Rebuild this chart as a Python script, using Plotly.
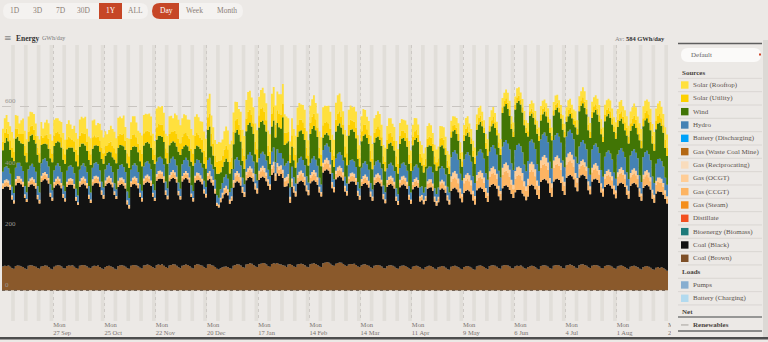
import pandas as pd
import plotly.graph_objects as go

# ---------------- DATA (GWh/day, one row per week Mon..Sun) ----------------
start_date = "2021-08-30"
n_days = 365

coal_brown_weeks = [
 [78,80,79,81,77,72,70],[79,81,80,78,76,71,69],[80,82,81,79,77,73,70],[78,79,81,80,76,70,68],
 [77,80,82,81,78,72,71],[79,81,80,82,77,73,70],[80,82,83,81,78,74,72],[78,80,79,81,76,71,69],
 [76,79,80,78,75,70,68],[79,81,82,80,77,72,70],[80,83,82,81,78,74,71],[81,82,84,83,79,75,72],
 [82,84,83,85,80,76,73],[81,83,85,84,80,75,72],[80,82,84,83,79,74,71],[83,85,84,82,80,75,73],
 [84,86,82,80,76,70,68],[72,75,77,78,76,72,70],[80,83,85,84,81,76,74],[84,86,88,87,83,78,76],
 [85,87,89,88,84,79,77],[86,88,87,89,85,84,82],[80,76,84,86,83,78,76],[84,86,87,85,82,77,75],
 [85,87,88,86,83,78,76],[88,90,92,91,87,82,80],[87,89,91,90,86,81,79],[84,86,85,87,83,78,76],
 [82,84,85,83,80,75,73],[80,82,83,81,78,73,71],[79,81,82,80,77,72,70],[78,80,81,79,76,71,69],
 [77,79,80,78,75,70,68],[76,78,80,79,75,70,68],[75,77,79,78,74,69,67],[77,79,80,78,75,70,68],
 [76,78,79,77,74,69,67],[78,80,81,79,76,71,69],[79,81,82,80,77,72,70],[80,82,83,81,78,73,71],
 [78,80,79,81,77,72,70],[76,78,80,79,75,70,68],[79,81,82,80,77,72,70],[80,82,83,81,78,73,71],
 [81,83,84,82,79,74,72],[82,84,85,83,80,75,73],[80,82,83,81,78,73,71],[79,81,82,80,77,72,70],
 [78,80,81,79,76,71,69],[77,79,80,78,75,70,68],[76,78,79,77,74,69,67],[74,76,72,75,73,68,64],
 [76],
]
coal_black_weeks = [
 [253,258,260,257,250,224,213],[264,269,271,268,261,230,219],[258,263,265,262,255,224,213],
 [275,280,282,279,272,235,224],[258,263,265,262,255,230,219],[258,263,265,262,255,219,208],
 [258,263,265,262,255,224,213],[264,269,271,268,261,241,230],[264,269,271,268,261,241,230],
 [258,263,265,262,255,208,197],[258,263,265,262,255,230,219],[264,269,271,268,261,230,219],
 [275,280,282,279,272,235,224],[275,280,282,279,272,235,224],[275,280,282,279,272,230,219],
 [269,274,276,273,266,241,230],[275,278,270,262,240,205,202],[215,225,236,240,234,210,222],
 [255,269,271,268,261,241,230],[275,280,282,279,272,251,240],[275,280,282,279,272,262,251],
 [291,296,270,293,288,295,284],[258,263,265,200,255,241,230],[264,269,271,268,261,246,235],
 [264,269,271,268,261,241,230],[296,301,303,300,293,251,240],[275,280,282,279,272,241,230],
 [264,269,271,268,261,230,219],[258,263,265,262,255,230,219],[264,269,271,268,261,224,213],
 [258,263,265,262,255,219,208],[258,263,265,262,255,224,213],[253,258,260,257,215,224,213],
 [215,253,255,257,250,219,208],[212,252,254,251,244,224,213],[248,253,255,252,245,230,219],
 [242,247,249,246,239,224,213],[248,253,255,252,245,230,219],[258,263,265,262,255,235,224],
 [253,258,260,257,250,241,230],[242,247,249,246,239,235,224],[230,263,265,262,255,241,230],
 [275,280,282,279,272,246,235],[275,280,282,279,272,251,240],[286,291,293,290,283,262,251],
 [286,291,293,290,283,251,240],[275,280,282,279,272,246,235],[258,263,265,262,255,241,230],
 [264,269,271,268,261,241,230],[264,269,271,268,261,235,224],[258,263,265,262,255,230,219],
 [242,247,249,246,239,230,219],
 [234],
]
gas_ccgt_weeks = [
 [12,14,15,13,11,9,7],[13,15,14,12,11,8,7],[12,13,15,14,12,9,8],[14,16,15,13,12,9,7],
 [12,14,16,14,11,8,7],[11,13,14,13,10,8,6],[12,14,15,14,11,9,7],[13,15,16,14,12,9,8],
 [12,14,15,13,11,8,7],[13,15,14,13,12,9,7],[12,14,16,15,11,9,8],[13,15,15,14,12,9,7],
 [14,16,17,15,13,10,8],[13,15,16,14,12,9,8],[12,14,15,14,11,8,7],[14,16,15,13,12,9,8],
 [15,16,13,12,10,7,7],[10,12,14,15,13,9,10],[16,20,21,19,17,13,11],[18,20,22,20,17,13,11],
 [19,21,22,20,18,14,12],[20,22,16,21,20,18,17],[18,20,19,12,17,13,11],[18,20,21,19,17,13,11],
 [17,19,21,19,16,12,10],[20,22,23,21,19,13,11],[18,20,21,19,17,12,10],[15,17,18,16,14,11,9],
 [15,17,18,16,14,11,9],[16,17,18,17,14,11,9],[15,17,17,16,14,10,9],[16,18,18,17,15,11,9],
 [15,17,18,16,11,11,9],[11,16,17,17,15,11,10],[12,17,18,17,15,11,10],[30,33,34,32,29,21,19],
 [31,33,35,33,30,21,19],[32,34,35,33,30,22,20],[33,35,36,34,31,22,20],[43,46,47,45,42,31,29],
 [44,47,48,46,43,32,30],[38,46,47,45,42,31,29],[45,48,49,47,44,32,30],[44,47,48,46,43,31,29],
 [43,46,47,45,42,31,29],[29,31,32,30,28,19,17],[30,32,33,31,28,19,17],[28,30,31,29,27,19,17],
 [29,31,32,30,28,19,17],[28,30,31,29,27,18,16],[29,31,32,30,27,19,17],[28,30,31,29,26,18,16],
 [27],
]
gas_ocgt_weeks = [
 [6,7,8,7,6,5,4],[7,8,7,6,6,4,3],[6,7,8,7,6,5,4],[7,8,8,7,6,4,4],
 [6,7,8,7,6,4,3],[6,7,7,6,5,4,3],[6,7,8,7,6,5,4],[7,8,8,7,6,5,4],
 [6,7,8,7,5,4,3],[7,8,7,7,6,5,4],[6,7,8,8,6,5,4],[7,8,8,7,6,4,4],
 [8,9,9,8,7,5,4],[7,8,9,8,6,5,4],[6,7,8,7,6,4,4],[8,9,8,7,6,5,4],
 [9,9,7,6,5,4,3],[5,6,7,8,7,5,5],[9,11,12,11,10,7,6],[10,12,13,11,10,7,6],
 [11,12,13,12,10,7,6],[12,13,9,12,12,11,10],[10,11,11,7,10,7,6],[10,12,12,11,10,7,6],
 [10,11,12,11,9,7,5],[12,13,14,12,11,7,6],[10,12,12,11,10,7,5],[8,10,10,9,8,6,5],
 [8,9,10,9,8,6,5],[9,10,10,9,8,6,4],[8,9,10,9,8,5,4],[9,10,10,9,8,6,5],
 [8,9,10,9,6,6,5],[6,9,10,9,8,6,5],[6,9,10,9,8,6,5],[17,19,20,18,16,11,9],
 [17,19,20,19,16,11,9],[18,19,20,19,17,11,10],[18,20,21,19,17,12,10],[24,26,27,25,23,16,14],
 [25,27,28,26,24,17,15],[20,26,27,25,23,16,14],[25,27,28,26,24,16,14],[24,26,27,25,23,16,14],
 [24,26,27,25,23,16,14],[14,16,17,15,13,11,9],[15,16,17,15,14,11,9],[14,15,16,15,13,10,9],
 [14,16,17,15,13,11,9],[14,15,16,15,13,10,8],[14,16,16,15,13,10,9],[13,15,16,14,12,10,8],
 [13],
]
hydro_weeks = [
 [38,42,43,40,36,28,23],[37,43,44,41,35,27,22],[39,41,44,40,37,29,24],[40,44,45,42,38,28,23],
 [38,42,43,41,36,27,23],[36,40,42,39,35,27,22],[37,41,43,40,35,28,23],[38,42,44,41,36,28,24],
 [36,40,41,39,34,26,22],[38,42,43,40,36,28,23],[37,41,43,41,36,27,23],[39,43,44,41,37,28,24],
 [40,44,45,42,38,29,24],[39,43,44,42,37,28,23],[38,42,43,41,36,27,23],[40,43,42,40,36,27,22],
 [42,43,38,35,30,24,22],[28,32,35,37,34,25,27],[36,44,45,42,38,30,25],[40,44,46,43,38,30,25],
 [41,45,46,44,39,31,26],[43,47,36,45,43,40,36],[40,44,43,30,38,30,25],[40,44,45,42,38,29,25],
 [39,43,45,42,37,29,24],[42,46,47,44,40,30,25],[40,44,45,42,38,29,24],[38,42,43,40,36,28,23],
 [37,41,43,40,36,28,23],[38,42,43,41,36,28,23],[37,41,42,40,35,27,22],[38,42,43,41,36,28,23],
 [37,41,42,40,28,28,23],[28,41,42,41,36,27,23],[30,42,44,42,37,28,24],[62,67,68,65,61,48,43],
 [61,66,68,65,60,47,42],[63,67,69,66,61,48,43],[64,68,70,67,62,49,44],[68,72,73,70,66,53,48],
 [69,73,74,71,67,54,49],[58,72,73,70,66,53,48],[68,72,74,71,66,53,48],[67,71,73,70,65,52,47],
 [68,72,73,70,66,53,48],[58,62,63,60,56,43,38],[59,63,64,61,56,43,38],[57,61,62,60,55,42,38],
 [58,62,63,60,56,43,38],[57,61,62,59,55,42,37],[58,62,63,60,55,43,38],[56,60,61,58,54,41,37],
 [55],
]
wind_weeks = [
 [70,80,92,88,78,95,105],[95,85,72,75,88,100,98],[90,98,95,88,92,102,98],[60,50,48,55,58,85,92],
 [80,75,72,78,80,85,90],[70,62,58,64,70,90,96],[75,72,65,68,70,85,90],[62,58,55,60,62,74,78],
 [45,40,38,45,48,78,84],[70,65,62,68,72,92,98],[65,60,56,60,64,76,80],[68,64,62,66,70,80,86],
 [72,70,68,72,74,76,80],[58,52,50,55,62,100,110],[50,45,42,46,50,76,82],[48,45,44,46,50,56,60],
 [98,102,60,45,42,70,78],[55,52,50,52,55,60,62],[80,88,90,84,78,55,50],[92,98,96,94,90,65,60],
 [100,104,102,98,95,45,40],[82,88,80,86,84,80,135],[68,66,64,80,66,55,52],[84,88,86,85,82,58,55],
 [95,98,100,96,94,64,60],[40,36,35,38,40,42,40],[88,92,94,90,86,64,60],[96,100,98,97,94,76,72],
 [86,90,88,87,85,70,66],[75,78,77,75,74,70,68],[65,68,66,64,67,70,68],[78,82,80,79,78,73,70],
 [83,86,87,84,82,68,66],[68,70,69,68,70,78,76],[70,72,68,66,64,62,60],[64,68,66,65,62,48,45],
 [60,62,63,60,58,64,62],[85,88,90,86,84,80,78],[66,68,70,67,64,75,73],[110,116,118,114,110,112,108],
 [132,138,140,136,130,128,125],[80,84,85,82,80,100,98],[62,66,68,65,64,95,92],[80,82,83,80,79,101,98],
 [48,50,52,49,48,96,94],[115,118,120,117,114,123,120],[104,108,110,106,102,117,114],[115,118,120,116,114,133,130],
 [90,94,96,92,88,120,116],[80,82,84,80,78,114,110],[100,105,106,103,98,108,105],[112,116,118,114,110,97,94],
 [93],
]
solar_utility_weeks = [
 [28,32,30,25,31,33,29],[31,27,22,30,33,32,30],[33,31,29,34,26,24,30],[30,20,27,32,33,31,28],
 [34,32,30,28,33,35,31],[33,36,30,24,34,37,36],[36,35,33,38,29,31,35],[37,34,26,30,36,38,34],
 [32,24,28,35,37,36,33],[39,37,35,40,30,33,38],[36,40,39,32,28,37,40],[40,38,36,39,41,34,30],
 [41,39,37,40,38,32,36],[38,35,30,38,41,42,39],[40,42,39,35,41,43,40],[42,41,38,36,40,42,39],
 [41,43,40,37,35,39,42],[39,36,40,42,41,38,37],[42,40,36,33,39,41,43],[41,43,42,38,35,40,42],
 [40,42,43,41,37,33,39],[43,44,42,41,43,45,44],[40,35,30,28,37,41,42],[39,37,34,38,40,36,33],
 [37,39,40,36,31,35,38],[40,38,35,39,37,33,36],[38,40,39,34,30,36,39],[34,32,29,33,35,31,28],
 [33,35,32,28,30,34,33],[32,30,33,34,28,25,31],[30,33,32,29,31,34,32],[28,26,24,27,29,30,27],
 [27,29,26,23,28,27,25],[25,28,29,27,24,26,28],[26,27,25,28,24,22,26],[21,19,17,20,22,21,18],
 [20,22,21,17,19,20,21],[19,21,20,18,16,19,21],[18,20,21,19,17,18,20],[19,17,18,20,19,16,18],
 [16,18,17,15,17,18,16],[17,15,16,18,17,16,17],[18,17,15,16,18,17,16],[17,18,16,15,17,18,17],
 [18,20,19,17,19,20,18],[19,18,20,21,18,17,19],[20,19,18,20,21,19,18],[21,20,19,22,20,18,21],
 [23,25,24,22,26,25,23],[25,24,26,27,23,22,25],[26,25,24,27,28,25,24],[27,26,28,25,24,27,28],
 [28],
]
solar_rooftop_weeks = [
 [42,48,45,38,46,50,44],[46,41,34,45,50,48,45],[49,47,44,51,39,37,45],[45,31,41,48,50,47,42],
 [51,48,45,42,50,52,47],[49,53,45,36,51,55,53],[53,52,49,56,43,46,52],[55,51,39,45,54,56,51],
 [48,36,42,52,55,54,49],[59,56,53,60,45,50,57],[54,60,59,48,42,56,60],[60,57,54,59,61,51,45],
 [61,58,56,60,57,48,54],[57,53,45,57,61,62,58],[60,62,58,52,61,64,60],[62,61,57,54,60,63,58],
 [61,64,60,55,52,58,62],[58,54,60,62,61,57,55],[62,60,54,50,58,61,64],[61,64,62,57,52,60,62],
 [60,62,64,61,55,50,58],[64,65,63,61,64,66,65],[60,52,45,42,55,61,62],[57,55,50,56,59,53,49],
 [55,57,59,53,46,52,56],[59,56,52,57,55,49,53],[56,59,58,50,45,53,57],[50,47,43,49,52,46,41],
 [49,52,47,41,44,50,49],[47,44,49,50,41,37,46],[44,49,47,43,46,50,47],[41,38,35,40,43,44,40],
 [40,43,38,34,41,40,37],[37,41,43,40,35,38,41],[38,40,37,41,35,32,38],[34,30,27,32,35,34,29],
 [32,35,33,27,30,32,33],[30,33,32,29,26,30,33],[29,32,33,30,27,29,32],[30,27,29,32,30,26,29],
 [26,29,27,24,27,29,26],[27,24,26,29,27,26,27],[29,27,24,26,29,27,26],[27,29,26,24,27,29,27],
 [29,32,30,27,30,32,29],[30,29,32,33,29,27,30],[32,30,29,32,33,30,29],[33,32,30,35,32,29,33],
 [35,38,37,34,39,38,35],[38,37,39,41,35,34,38],[39,38,37,41,42,38,37],[41,39,42,38,37,41,42],
 [42],
]

tick_dates = ["2021-09-27","2021-10-25","2021-11-22","2021-12-20","2022-01-17","2022-02-14",
              "2022-03-14","2022-04-11","2022-05-09","2022-06-06","2022-07-04","2022-08-01","2022-08-29"]
tick_labels = ["Mon<br>27 Sep","Mon<br>25 Oct","Mon<br>22 Nov","Mon<br>20 Dec","Mon<br>17 Jan","Mon<br>14 Feb",
               "Mon<br>14 Mar","Mon<br>11 Apr","Mon<br>9 May","Mon<br>6 Jun","Mon<br>4 Jul","Mon<br>1 Aug","Mon<br>29 Aug"]
y_grid_vals = [0, 200, 400, 600, 800]
y_label_vals = [0, 200, 400, 600]

legend_sources = [("Solar (Rooftop)", "#ffe03d"), ("Solar (Utility)", "#fdd000"), ("Wind", "#417505"),
                  ("Hydro", "#4582b4"), ("Battery (Discharging)", "#00a2fa"), ("Gas (Waste Coal Mine)", "#b46813"),
                  ("Gas (Reciprocating)", "#f9dcbc"), ("Gas (OCGT)", "#ffcd96"), ("Gas (CCGT)", "#fdb462"),
                  ("Gas (Steam)", "#f48e1b"), ("Distillate", "#f35020"), ("Bioenergy (Biomass)", "#1d7a7a"),
                  ("Coal (Black)", "#121212"), ("Coal (Brown)", "#7e4f27")]
legend_loads = [("Pumps", "#88aed0"), ("Battery (Charging)", "#b2daef")]
range_buttons = ["1D", "3D", "7D", "30D", "1Y", "ALL"]
interval_buttons = ["Day", "Week", "Month"]


def flat(weeks):
    return [v for wk in weeks for v in wk]


dates = pd.date_range(start_date, periods=n_days, freq="D")
series = [
    ("Coal (Brown)", flat(coal_brown_weeks), "#8a592b"),
    ("Coal (Black)", flat(coal_black_weeks), "#121212"),
    ("Gas (CCGT)", flat(gas_ccgt_weeks), "#fdb462"),
    ("Gas (OCGT)", flat(gas_ocgt_weeks), "#ffcd96"),
    ("Hydro", flat(hydro_weeks), "#4582b4"),
    ("Wind", flat(wind_weeks), "#417505"),
    ("Solar (Utility)", flat(solar_utility_weeks), "#fdd000"),
    ("Solar (Rooftop)", flat(solar_rooftop_weeks), "#ffe03d"),
]

# ---------------- LAYOUT GEOMETRY ----------------
W_FIG, H_FIG = 768, 342
ML, MR, MT, MB = 2, 100, 45, 21
PW = W_FIG - ML - MR
PH = H_FIG - MT - MB
BG = "#ece9e6"
SERIF = "Liberation Serif"
TXT = "#5b534d"


def fx(x):
    return (x - ML) / PW


def fy(y):
    return 1 - (y - MT) / PH


def prect(x0, y0, x1, y1, color, line=None, layer="above"):
    d = dict(type="rect", xref="paper", yref="paper", x0=fx(x0), x1=fx(x1), y0=fy(y1), y1=fy(y0),
             fillcolor=color, layer=layer, line=dict(width=0))
    if line:
        d["line"] = line
    return d


def pline(x0, y0, x1, y1, color, width=1, dash=None):
    ln = dict(color=color, width=width)
    if dash:
        ln["dash"] = dash
    return dict(type="line", xref="paper", yref="paper", x0=fx(x0), x1=fx(x1), y0=fy(y0), y1=fy(y1),
                line=ln, layer="above")


def rpath(x0, y0, x1, y1, r, left=True, right=True, color="#fff"):
    def P(x, y):
        return f"{fx(x):.5f},{fy(y):.5f}"
    s = ""
    if left:
        s += f"M{P(x0 + r, y0)} "
    else:
        s += f"M{P(x0, y0)} "
    if right:
        s += f"L{P(x1 - r, y0)} Q{P(x1, y0)} {P(x1, y0 + r)} L{P(x1, y1 - r)} Q{P(x1, y1)} {P(x1 - r, y1)} "
    else:
        s += f"L{P(x1, y0)} L{P(x1, y1)} "
    if left:
        s += f"L{P(x0 + r, y1)} Q{P(x0, y1)} {P(x0, y1 - r)} L{P(x0, y0 + r)} Q{P(x0, y0)} {P(x0 + r, y0)} Z"
    else:
        s += f"L{P(x0, y1)} Z"
    return dict(type="path", xref="paper", yref="paper", path=s, fillcolor=color,
                line=dict(width=0), layer="above")


def ann(x, y, text, size=7, color=TXT, xanchor="left", bold=False, family=SERIF):
    if bold:
        text = f"<b>{text}</b>"
    return dict(xref="paper", yref="paper", x=fx(x), y=fy(y), text=text, showarrow=False,
                xanchor=xanchor, yanchor="middle", font=dict(size=size, color=color, family=family),
                borderpad=0)


fig = go.Figure()
for name, vals, col in series:
    fig.add_trace(go.Scatter(x=dates, y=vals, name=name, mode="lines", stackgroup="one",
                             line=dict(width=0, shape="hv", color=col), fillcolor=col,
                             hoverinfo="skip"))

shapes = []
# weekend bands
for w in range(n_days // 7):
    shapes.append(dict(type="rect", xref="x", yref="y domain",
                       x0=dates[0] + pd.Timedelta(days=7 * w + 5), x1=dates[0] + pd.Timedelta(days=7 * w + 7),
                       y0=0, y1=1, fillcolor="#e1ded9", line=dict(width=0), layer="below"))
# zero dotted line
shapes.append(dict(type="line", xref="paper", yref="y", x0=0, x1=1, y0=0, y1=0,
                   line=dict(color="#6a5a4c", width=1, dash="dot"), layer="above"))

# right panel background (covers the clipped last tick label)
shapes.append(prect(671, 28, 768, 337, BG))
shapes.append(prect(763, 40, 768, 337, "#dcd9d5"))
# bottom dark rule
shapes.append(prect(0, 337, 768, 339.5, "#4d4d4d"))

# top buttons
shapes.append(rpath(3, 3, 148, 19, 8, color="#f4f2f0"))
shapes.append(prect(99, 3, 122, 19, "#c64626"))
shapes.append(rpath(152, 3, 243, 19, 8, color="#f4f2f0"))
shapes.append(rpath(152, 3, 179, 19, 8, left=True, right=False, color="#c64626"))

# legend panel
shapes.append(pline(678, 43.5, 762, 43.5, "#5e5e5e", 1.5))
shapes.append(rpath(681, 48, 761, 62, 7, color="#fbfaf9"))
shapes.append(prect(759, 53.5, 761, 55.5, "#d0452a"))

annotations = []
# buttons text
btn_x = [15, 38, 61, 84, 111, 135]
for lbl, x in zip(range_buttons, btn_x):
    annotations.append(ann(x, 11, lbl, size=7.5, color="#ffffff" if lbl == "1Y" else "#8b7d75", xanchor="center"))
for lbl, x in zip(interval_buttons, [166, 194, 227]):
    annotations.append(ann(x, 11, lbl, size=7.5, color="#ffffff" if lbl == "Day" else "#8b7d75", xanchor="center"))

# chart title row
annotations.append(ann(3, 37.5, "≡", size=9, color="#888888", family="DejaVu Sans"))
annotations.append(ann(15, 38, "Energy", size=7.5, color="#333333", bold=True))
annotations.append(ann(41, 38, "GWh/day", size=6, color="#777777"))
annotations.append(ann(666, 38, "<span style='color:#888'>Av:</span> <b>584 GWh/day</b>", size=6.5,
                       color="#333333", xanchor="right"))

# y labels
for v in y_label_vals:
    annotations.append(dict(xref="paper", yref="y", x=fx(4), y=v, text=str(v), showarrow=False,
                            xanchor="left", yanchor="bottom", yshift=0,
                            font=dict(size=7, color="#9a9794", family=SERIF), borderpad=0))

# legend
annotations.append(ann(690, 55, "Default", size=7, color="#666666"))
annotations.append(ann(681, 72.5, "Sources", size=7, color="#4a4440", bold=True))
step = 13.33
row0 = 85
shapes.append(pline(678, row0 - step / 2, 762, row0 - step / 2, "#d6d2ce", 0.8))
for i, (lbl, col) in enumerate(legend_sources):
    yy = row0 + i * step
    shapes.append(prect(681, yy - 3.7, 688.5, yy + 3.7, col))
    annotations.append(ann(692, yy, lbl, size=7))
    shapes.append(pline(678, yy + step / 2, 762, yy + step / 2, "#d6d2ce", 0.8))
yl = row0 + 14 * step
annotations.append(ann(681, yl, "Loads", size=7, color="#4a4440", bold=True))
shapes.append(pline(678, yl + step / 2, 762, yl + step / 2, "#d6d2ce", 0.8))
for j, (lbl, col) in enumerate(legend_loads):
    yy = row0 + (15 + j) * step
    shapes.append(prect(681, yy - 3.7, 688.5, yy + 3.7, col))
    annotations.append(ann(692, yy, lbl, size=7))
    shapes.append(pline(678, yy + step / 2, 762, yy + step / 2, "#d6d2ce", 0.8))
yn = row0 + 17 * step
annotations.append(ann(681, yn, "Net", size=7, color="#4a4440", bold=True))
shapes.append(pline(678, yn + 5.5, 762, yn + 5.5, "#7a7a7a", 1.5))
yr = row0 + 18 * step
shapes.append(pline(681, yr, 688.5, yr, "#b0aca8", 1.2))
annotations.append(ann(692, yr, "Renewables", size=7, color="#4a4440", bold=True))
shapes.append(pline(678, yr + 6, 762, yr + 6, "#6a6a6a", 1.5))

fig.update_layout(
    width=W_FIG, height=H_FIG,
    margin=dict(l=ML, r=MR, t=MT, b=MB, pad=0),
    paper_bgcolor=BG, plot_bgcolor=BG,
    showlegend=False, hovermode=False,
    shapes=shapes, annotations=annotations,
    xaxis=dict(type="date", range=[dates[0], dates[-1]], tickvals=tick_dates, ticktext=tick_labels,
               showgrid=True, gridcolor="#cdc9c5", griddash="dot", gridwidth=1, ticks="",
               ticklabelposition="outside right", ticklabelstandoff=-2,
               tickfont=dict(size=6.5, color="#7a7370", family=SERIF),
               showline=False, zeroline=False, automargin=False, fixedrange=True),
    yaxis=dict(range=[-100, 800], tickvals=y_grid_vals, showticklabels=False, showgrid=True,
               gridcolor="#c9c5c1", griddash="dash", gridwidth=1, zeroline=False,
               showline=False, automargin=False, fixedrange=True),
)

fig.write_html("out.html", config={"displayModeBar": False})
